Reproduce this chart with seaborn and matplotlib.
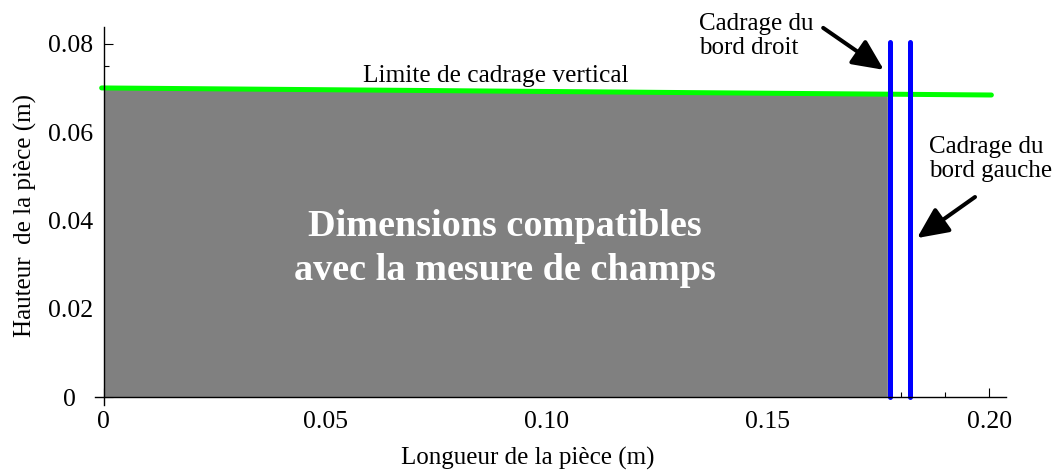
import matplotlib
matplotlib.use("Agg")
import matplotlib.pyplot as plt
import matplotlib.transforms as mtransforms
from matplotlib.ticker import MultipleLocator
import seaborn as sns

# ---- values ----
limit_x = [-0.0005, 0.2005]          # green vertical framing limit
limit_y = [0.0700, 0.0684]

region_x = [0.0, 0.1770]             # grey zone compatible with field measurement
region_top = [0.0698, 0.0687]

right_edge_x = [0.1776, 0.1776]      # "bord droit" framing
left_edge_x = [0.1821, 0.1821]       # "bord gauche" framing
edge_y = [0.0, 0.0805]

x_ticks = [0, 0.05, 0.10, 0.15, 0.20]
x_tick_labels = ["0", "0.05", "0.10", "0.15", "0.20"]
y_ticks = [0, 0.02, 0.04, 0.06, 0.08]
y_tick_labels = ["0", "0.02", "0.04", "0.06", "0.08"]

sns.set_theme(style="white")
plt.rcParams['font.family'] = ['Liberation Serif', 'DejaVu Serif']

fig = plt.figure(figsize=(10.56, 4.70), dpi=100)
ax = fig.add_axes([95 / 1056, 1 - 405 / 470, 911 / 1056, 378 / 470])

# grey zone
ax.fill_between(region_x, 0, region_top, color="#808080", lw=0, zorder=1)

# framing lines
sns.lineplot(x=limit_x, y=limit_y, color="#00ff00", linewidth=3.6,
             estimator=None, sort=False, ax=ax, zorder=3)
sns.lineplot(x=right_edge_x, y=edge_y, color="#0000ff", linewidth=3.6,
             estimator=None, sort=False, ax=ax, zorder=4)
sns.lineplot(x=left_edge_x, y=edge_y, color="#0000ff", linewidth=3.6,
             estimator=None, sort=False, ax=ax, zorder=4)

ax.set_xlim(-0.002, 0.2038)
ax.set_ylim(-0.0018, 0.0838)

# mathematica-like axes crossing at the origin
for side in ["top", "right"]:
    ax.spines[side].set_visible(False)
for side in ["left", "bottom"]:
    ax.spines[side].set_position(("data", 0))
    ax.spines[side].set_color("black")
    ax.spines[side].set_linewidth(1.0)
    ax.spines[side].set_zorder(5)

ax.set_xticks(x_ticks, x_tick_labels)
ax.set_yticks(y_ticks, y_tick_labels)
ax.xaxis.set_minor_locator(MultipleLocator(0.01))
ax.yaxis.set_minor_locator(MultipleLocator(0.005))
ax.tick_params(which="both", direction="in", color="black", width=0.8,
               labelsize=18.5, labelcolor="black", bottom=True, left=True)
ax.tick_params(which="major", length=6.5)
ax.tick_params(which="minor", length=3.6)
ax.tick_params(axis="x", pad=10)
ax.tick_params(axis="y", pad=8)

# y "0" label sits further left in the original
lab0 = ax.yaxis.get_major_ticks()[0].label1
lab0.set_transform(lab0.get_transform() +
                   mtransforms.ScaledTranslation(-0.17, 0, fig.dpi_scale_trans))

ax.set_xlabel("Longueur de la pièce (m)", fontsize=18, color="black")
ax.set_ylabel("Hauteur  de la pièce (m)", fontsize=18, color="black")
ax.xaxis.set_label_coords(0.475, -0.11)
ax.yaxis.set_label_coords(-0.064, 0.5)

# texts
ax.text(0.0886, 0.0714, "Limite de cadrage vertical", fontsize=18.3,
        ha="center", va="baseline", color="black")
ax.text(0.0906, 0.0336, "Dimensions compatibles\navec la mesure de champs",
        fontsize=27.5, fontweight="bold", color="white", ha="center",
        va="center", multialignment="center", linespacing=1.31)

ax.text(0.1345, 0.0818, "Cadrage du\nbord droit", fontsize=18, ha="left",
        va="center", linespacing=1.12, color="black", clip_on=False)
ax.text(0.1864, 0.0539, "Cadrage du\nbord gauche", fontsize=18, ha="left",
        va="center", linespacing=1.12, color="black", clip_on=False)

arrow_style = dict(arrowstyle="-|>,head_length=0.9,head_width=0.42",
                   color="black", lw=2.9, mutation_scale=21,
                   shrinkA=0, shrinkB=0)
ax.annotate("", xy=(0.1762, 0.0741), xytext=(0.1625, 0.0836),
            annotation_clip=False, arrowprops=arrow_style)
ax.annotate("", xy=(0.1837, 0.0360), xytext=(0.1968, 0.0453),
            annotation_clip=False, arrowprops=arrow_style)

fig.savefig("out.png", dpi=100)
